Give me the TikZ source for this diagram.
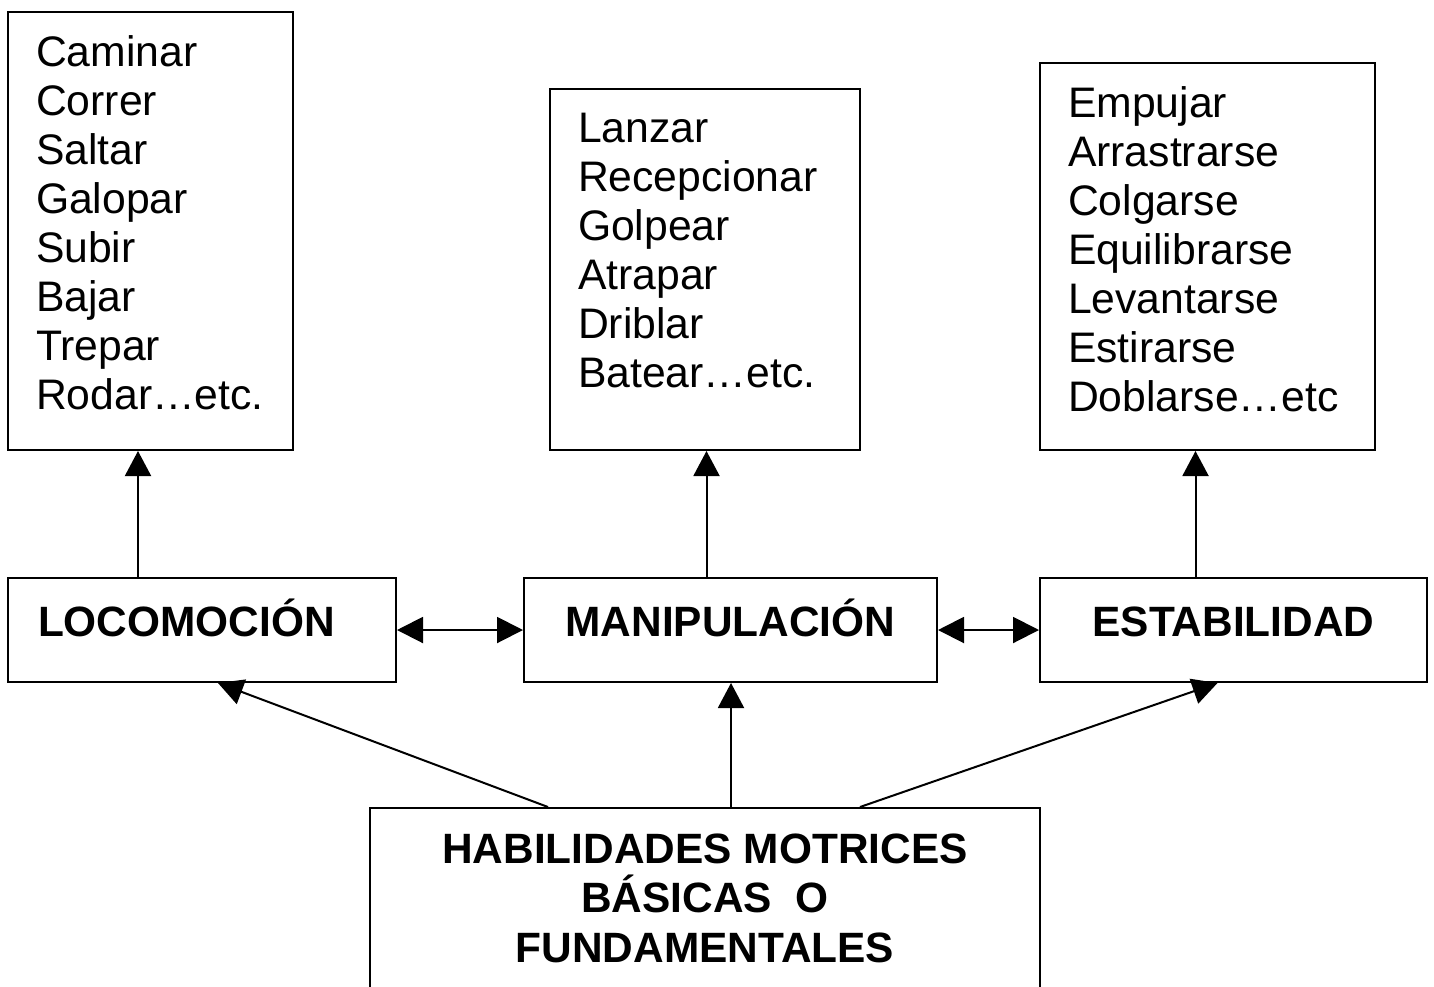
\documentclass[tikz,border=0pt]{standalone}
\usepackage{fontspec}
\setmainfont{Liberation Sans}
\usetikzlibrary{arrows.meta,positioning}

\begin{document}
\begin{tikzpicture}[x=0.5pt,y=-0.5pt,line width=1pt,
	listbox/.style={draw,align=left,inner xsep=14pt,text height=15pt,font=\fontsize{21.35}{24.5}\selectfont},
	skillbox/.style={draw,minimum height=52pt,font=\bfseries\fontsize{21.2}{24.75}\selectfont,text height=15pt,text depth=9pt},
	arr/.style={-{Triangle[length=12.5pt,width=13pt]}},
	dblarr/.style={{Triangle[length=13pt,width=13pt]}-{Triangle[length=13pt,width=13pt]}}]
		\useasboundingbox (0,0) rectangle (1434,986);
		% lists
		\node[listbox,minimum width=142.5pt,minimum height=219pt,text width=114.5pt,text depth=179.3pt] (caminar) at (150.5,231)
		{Caminar\\Correr\\Saltar\\Galopar\\Subir\\Bajar\\Trepar\\Rodar…etc.};
		\node[listbox,minimum width=155pt,minimum height=180.5pt,text width=127pt,text depth=142.5pt] (lanzar) at (705,269.5)
		{Lanzar\\Recepcionar\\Golpear\\Atrapar\\Driblar\\Batear…etc.};
		\node[listbox,minimum width=167.5pt,minimum height=193.5pt,text width=139.5pt,text depth=154.5pt] (empujar) at (1207.5,256.5)
		{Empujar\\Arrastrarse\\Colgarse\\Equilibrarse\\Levantarse\\Estirarse\\Doblarse…etc};
		% skills
		\node[skillbox,minimum width=194pt,inner xsep=15pt,text width=164pt,align=left] (loco) at (202,630) {LOCOMOCIÓN};
		\node[skillbox,minimum width=206.5pt] (manip) at (730.5,630) {MANIPULACIÓN};
		\node[skillbox,minimum width=193.5pt] (estab) at (1233.5,630) {ESTABILIDAD};
		\node[draw,minimum width=335pt,minimum height=90pt,align=center,font=\bfseries\fontsize{21.2}{24.75}\selectfont] (hmb) at (705,898)
		{HABILIDADES MOTRICES\\BÁSICAS\ \ O\\FUNDAMENTALES};
		% arrows
		\draw[arr] ([xshift=-32pt]loco.north) coordinate (l1) -- (l1 |- caminar.south);
		\draw[arr] ([xshift=-12pt]manip.north) coordinate (m1) -- (m1 |- lanzar.south);
		\draw[arr] ([xshift=-19pt]estab.north) coordinate (e1) -- (e1 |- empujar.south);
		\draw[dblarr] (loco) -- (manip);
		\draw[dblarr] (manip) -- (estab);
		\draw[arr] ([xshift=-78.5pt]hmb.north) -- ([xshift=8pt]loco.south);
		\draw[arr] ([xshift=13pt]hmb.north) coordinate (h1) -- (h1 |- manip.south);
		\draw[arr] ([xshift=77.5pt]hmb.north) -- ([xshift=-8pt]estab.south);
\end{tikzpicture}
\end{document}
